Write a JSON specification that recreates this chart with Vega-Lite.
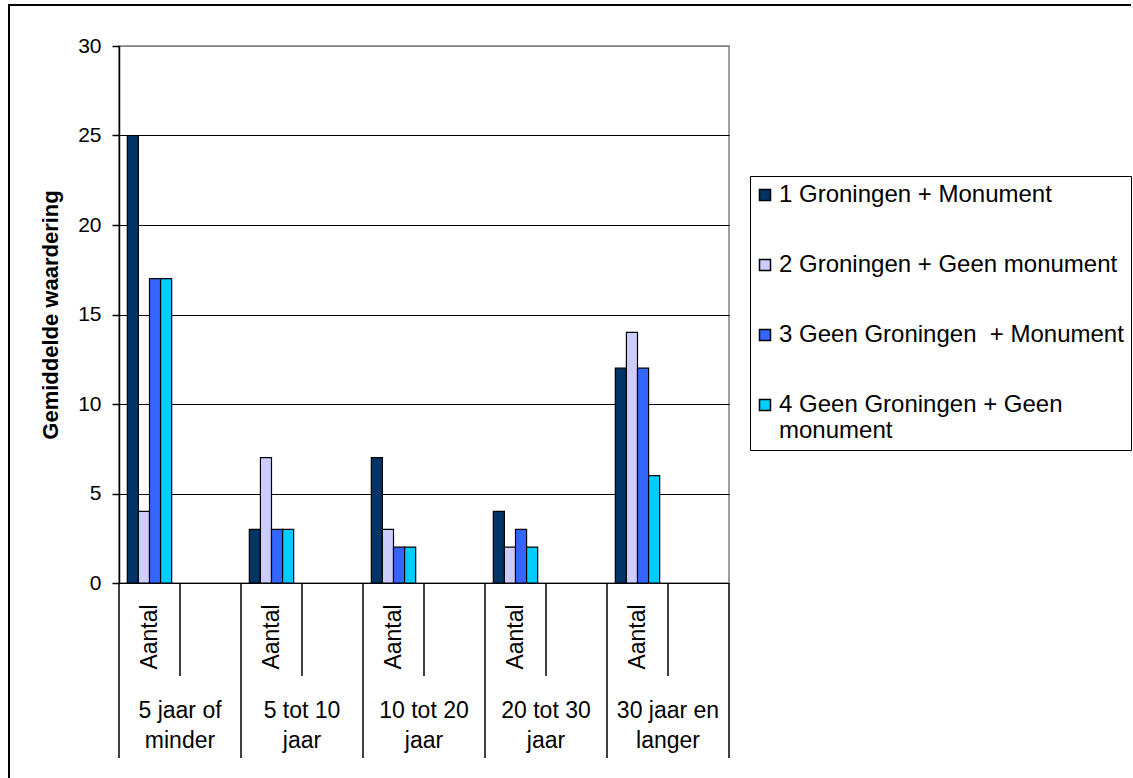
{
  "$schema": "https://vega.github.io/schema/vega-lite/v6.json",
  "padding": {"left": 8, "top": 4, "right": 0, "bottom": 0},
  "autosize": {"type": "pad"},
  "background": "white",
  "config": {"font": "Liberation Sans", "view": {"stroke": null}},
  "datasets": {
    "bars": [
      {"cat": "5 jaar of minder|Aantal", "serie": "1 Groningen + Monument", "waarde": 25},
      {"cat": "5 jaar of minder|Aantal", "serie": "2 Groningen + Geen monument", "waarde": 4},
      {"cat": "5 jaar of minder|Aantal", "serie": "3 Geen Groningen\u00a0 + Monument", "waarde": 17},
      {"cat": "5 jaar of minder|Aantal", "serie": "4 Geen Groningen + Geen monument", "waarde": 17},
      {"cat": "5 tot 10 jaar|Aantal", "serie": "1 Groningen + Monument", "waarde": 3},
      {"cat": "5 tot 10 jaar|Aantal", "serie": "2 Groningen + Geen monument", "waarde": 7},
      {"cat": "5 tot 10 jaar|Aantal", "serie": "3 Geen Groningen\u00a0 + Monument", "waarde": 3},
      {"cat": "5 tot 10 jaar|Aantal", "serie": "4 Geen Groningen + Geen monument", "waarde": 3},
      {"cat": "10 tot 20 jaar|Aantal", "serie": "1 Groningen + Monument", "waarde": 7},
      {"cat": "10 tot 20 jaar|Aantal", "serie": "2 Groningen + Geen monument", "waarde": 3},
      {"cat": "10 tot 20 jaar|Aantal", "serie": "3 Geen Groningen\u00a0 + Monument", "waarde": 2},
      {"cat": "10 tot 20 jaar|Aantal", "serie": "4 Geen Groningen + Geen monument", "waarde": 2},
      {"cat": "20 tot 30 jaar|Aantal", "serie": "1 Groningen + Monument", "waarde": 4},
      {"cat": "20 tot 30 jaar|Aantal", "serie": "2 Groningen + Geen monument", "waarde": 2},
      {"cat": "20 tot 30 jaar|Aantal", "serie": "3 Geen Groningen\u00a0 + Monument", "waarde": 3},
      {"cat": "20 tot 30 jaar|Aantal", "serie": "4 Geen Groningen + Geen monument", "waarde": 2},
      {"cat": "30 jaar en langer|Aantal", "serie": "1 Groningen + Monument", "waarde": 12},
      {"cat": "30 jaar en langer|Aantal", "serie": "2 Groningen + Geen monument", "waarde": 14},
      {"cat": "30 jaar en langer|Aantal", "serie": "3 Geen Groningen\u00a0 + Monument", "waarde": 12},
      {"cat": "30 jaar en langer|Aantal", "serie": "4 Geen Groningen + Geen monument", "waarde": 6}
    ],
    "as": [
      {"cat": "5 jaar of minder|Aantal", "sub": "Aantal", "label": "5 jaar of\nminder"},
      {"cat": "5 jaar of minder|", "sub": "", "label": ""},
      {"cat": "5 tot 10 jaar|Aantal", "sub": "Aantal", "label": "5 tot 10\njaar"},
      {"cat": "5 tot 10 jaar|", "sub": "", "label": ""},
      {"cat": "10 tot 20 jaar|Aantal", "sub": "Aantal", "label": "10 tot 20\njaar"},
      {"cat": "10 tot 20 jaar|", "sub": "", "label": ""},
      {"cat": "20 tot 30 jaar|Aantal", "sub": "Aantal", "label": "20 tot 30\njaar"},
      {"cat": "20 tot 30 jaar|", "sub": "", "label": ""},
      {"cat": "30 jaar en langer|Aantal", "sub": "Aantal", "label": "30 jaar en\nlanger"},
      {"cat": "30 jaar en langer|", "sub": "", "label": ""}
    ]
  },
  "spacing": 0,
  "align": "none",
  "bounds": "flush",
  "vconcat": [
    {"width": 1122, "height": 41, "data": {"values": []}, "mark": "point", "view": {"stroke": "black", "strokeWidth": 2, "strokeDash": [1122, 1163, 41]}},
    {
      "spacing": 27,
      "hconcat": [
        {"width": 1, "height": 732, "data": {"values": []}, "mark": "point", "view": {"stroke": "black", "strokeWidth": 2, "strokeDash": [0, 734, 732]}},
        {
          "spacing": 0,
          "bounds": "flush",
          "resolve": {"scale": {"x": "independent", "y": "independent"}},
          "vconcat": [
            {
              "width": 610,
              "height": 537,
              "view": {"stroke": "#808080", "strokeWidth": 1.5},
              "data": {"name": "bars"},
              "mark": {"type": "bar", "stroke": "black", "strokeWidth": 1.2},
              "encoding": {
                "x": {"field": "cat", "type": "nominal", "axis": null,
                  "scale": {"domain": ["5 jaar of minder|Aantal", "5 jaar of minder|", "5 tot 10 jaar|Aantal", "5 tot 10 jaar|", "10 tot 20 jaar|Aantal", "10 tot 20 jaar|", "20 tot 30 jaar|Aantal", "20 tot 30 jaar|", "30 jaar en langer|Aantal", "30 jaar en langer|"], "paddingInner": 0, "paddingOuter": 0}},
                "xOffset": {"field": "serie", "type": "nominal",
                  "scale": {"domain": ["1 Groningen + Monument", "2 Groningen + Geen monument", "3 Geen Groningen\u00a0 + Monument", "4 Geen Groningen + Geen monument"], "paddingInner": 0, "paddingOuter": 0.75}},
                "y": {"field": "waarde", "type": "quantitative",
                  "scale": {"domain": [0, 30], "nice": false},
                  "axis": {"title": "Gemiddelde waardering", "values": [0, 5, 10, 15, 20, 25, 30], "grid": true,
                    "gridColor": {"condition": {"test": "datum.value === 30", "value": "#808080"}, "value": "black"},
                    "gridWidth": 1.2, "domainColor": "black", "domainWidth": 1.5, "tickColor": "black", "tickSize": 7, "tickWidth": 1.5,
                    "labelFontSize": 21, "labelColor": "black", "labelPadding": 11,
                    "titleFontSize": 22, "titleFontWeight": "bold", "titleColor": "black", "titlePadding": 15}},
                "color": {"field": "serie", "type": "nominal",
                  "scale": {"domain": ["1 Groningen + Monument", "2 Groningen + Geen monument", "3 Geen Groningen\u00a0 + Monument", "4 Geen Groningen + Geen monument"], "range": ["#003366", "#CCCCFF", "#3366FF", "#00CCFF"]},
                  "legend": {"title": null, "orient": "none", "legendX": 741, "legendY": 171,
                    "symbolType": "square", "symbolSize": 121, "symbolStrokeColor": "black", "symbolStrokeWidth": 1.5, "symbolOffset": -4,
                    "labelFontSize": 24, "labelColor": "black", "labelOffset": 2, "rowPadding": 46, "padding": 7,
                    "strokeColor": "black", "fillColor": "white", "labelLimit": 600,
                    "labelExpr": "datum.label == '4 Geen Groningen + Geen monument' ? ['4 Geen Groningen + Geen', 'monument'] : datum.label"}}
              }
            },
            {
              "width": 610,
              "height": 175,
              "data": {"name": "as"},
              "encoding": {
                "x": {"field": "cat", "type": "nominal", "axis": null,
                  "scale": {"domain": ["5 jaar of minder|Aantal", "5 jaar of minder|", "5 tot 10 jaar|Aantal", "5 tot 10 jaar|", "10 tot 20 jaar|Aantal", "10 tot 20 jaar|", "20 tot 30 jaar|Aantal", "20 tot 30 jaar|", "30 jaar en langer|Aantal", "30 jaar en langer|"], "paddingInner": 0, "paddingOuter": 0}}
              },
              "layer": [
                {
                  "transform": [{"filter": "datum.sub === 'Aantal'"}],
                  "mark": {"type": "rule", "color": "black", "strokeWidth": 1.5},
                  "encoding": {
                    "x": {"field": "cat", "type": "nominal", "bandPosition": 0},
                    "y": {"datum": 0, "type": "quantitative", "scale": {"domain": [0, 1.88], "reverse": true, "nice": false, "zero": false}, "axis": null},
                    "y2": {"datum": 1.88}
                  }
                },
                {
                  "transform": [{"filter": "datum.cat === '30 jaar en langer|'"}],
                  "mark": {"type": "rule", "color": "black", "strokeWidth": 1.5},
                  "encoding": {
                    "x": {"field": "cat", "type": "nominal", "bandPosition": 1},
                    "y": {"datum": 0, "type": "quantitative"},
                    "y2": {"datum": 1.88}
                  }
                },
                {
                  "transform": [{"filter": "datum.sub === ''"}],
                  "mark": {"type": "rule", "color": "black", "strokeWidth": 1.5},
                  "encoding": {
                    "x": {"field": "cat", "type": "nominal", "bandPosition": 0},
                    "y": {"datum": 0, "type": "quantitative"},
                    "y2": {"datum": 1}
                  }
                },
                {
                  "transform": [{"filter": "datum.sub === 'Aantal'"}],
                  "mark": {"type": "text", "angle": 270, "align": "center", "baseline": "middle", "fontSize": 23, "color": "black"},
                  "encoding": {
                    "x": {"field": "cat", "type": "nominal", "bandPosition": 0.5},
                    "y": {"datum": 0.58, "type": "quantitative"},
                    "text": {"field": "sub", "type": "nominal"}
                  }
                },
                {
                  "transform": [{"filter": "datum.sub === 'Aantal'"}],
                  "mark": {"type": "text", "align": "center", "baseline": "middle", "fontSize": 23, "color": "black", "lineBreak": "\n", "lineHeight": 30},
                  "encoding": {
                    "x": {"field": "cat", "type": "nominal", "bandPosition": 1},
                    "y": {"datum": 1.375, "type": "quantitative"},
                    "text": {"field": "label", "type": "nominal"}
                  }
                }
              ]
            }
          ]
        }
      ]
    }
  ]
}
